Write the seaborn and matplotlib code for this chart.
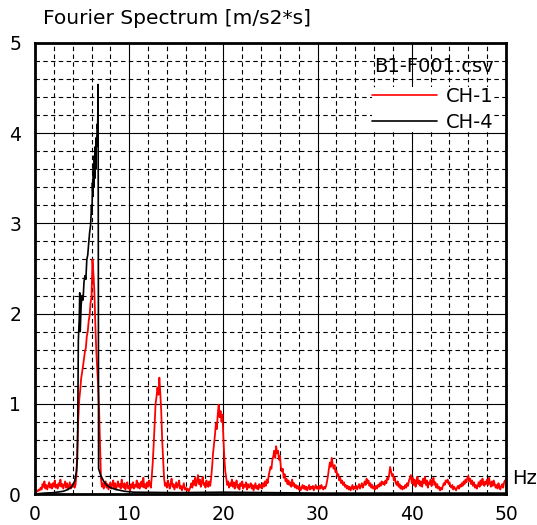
import numpy as np
import pandas as pd
import matplotlib
matplotlib.use("Agg")
import matplotlib.pyplot as plt
import seaborn as sns

# ---------------- data ----------------
title_text = "Fourier Spectrum [m/s2*s]"
file_label = "B1-F001.csv"
series_names = ["CH-1", "CH-4"]
x_ticks = [0, 10, 20, 30, 40, 50]
y_ticks = [0, 1, 2, 3, 4, 5]

# CH-1: 0.0 .. 50.0 Hz, step 0.1 Hz
ch1_freq = [round(i * 0.1, 1) for i in range(501)]
ch1_amp = [
    0.01, 0.02, 0.04, 0.03, 0.05, 0.04, 0.07, 0.05, 0.11, 0.08,
    0.14, 0.06, 0.10, 0.05, 0.09, 0.13, 0.07, 0.11, 0.06, 0.12,
    0.08, 0.15, 0.07, 0.10, 0.06, 0.12, 0.09, 0.16, 0.08, 0.11,
    0.06, 0.10, 0.14, 0.07, 0.12, 0.05, 0.09, 0.13, 0.06, 0.10,
    0.08, 0.12, 0.07, 0.10, 0.22, 0.55, 0.85, 1.05, 1.15, 1.28,
    1.35, 1.42, 1.50, 1.58, 1.62, 1.75, 1.80, 1.92, 1.98, 2.12,
    2.18, 2.60, 2.45, 2.25, 1.90, 1.60, 1.40, 1.20, 0.95, 0.55,
    0.18, 0.08, 0.12, 0.06, 0.10, 0.14, 0.07, 0.11, 0.05, 0.09,
    0.13, 0.06, 0.10, 0.15, 0.07, 0.12, 0.05, 0.09, 0.14, 0.08,
    0.11, 0.06, 0.16, 0.09, 0.07, 0.12, 0.05, 0.10, 0.13, 0.06,
    0.09, 0.04, 0.11, 0.07, 0.13, 0.06, 0.10, 0.08, 0.15, 0.07,
    0.12, 0.06, 0.09, 0.14, 0.08, 0.18, 0.07, 0.11, 0.06, 0.13,
    0.08, 0.15, 0.10, 0.07, 0.20, 0.35, 0.55, 0.78, 1.00, 1.08,
    1.18, 1.10, 1.29, 1.12, 0.92, 0.60, 0.40, 0.18, 0.09, 0.12,
    0.07, 0.15, 0.10, 0.06, 0.12, 0.17, 0.08, 0.11, 0.05, 0.09,
    0.13, 0.07, 0.10, 0.15, 0.06, 0.09, 0.04, 0.08, 0.12, 0.05,
    0.07, 0.04, 0.06, 0.03, 0.05, 0.08, 0.12, 0.07, 0.15, 0.10,
    0.18, 0.09, 0.14, 0.21, 0.11, 0.16, 0.08, 0.13, 0.19, 0.10,
    0.12, 0.07, 0.15, 0.10, 0.08, 0.14, 0.09, 0.18, 0.30, 0.45,
    0.55, 0.65, 0.78, 0.72, 0.88, 0.99, 0.85, 0.92, 0.80, 0.88,
    0.62, 0.40, 0.25, 0.18, 0.10, 0.14, 0.07, 0.12, 0.09, 0.16,
    0.08, 0.13, 0.06, 0.11, 0.15, 0.07, 0.10, 0.05, 0.12, 0.09,
    0.14, 0.06, 0.10, 0.08, 0.13, 0.05, 0.11, 0.07, 0.09, 0.12,
    0.06, 0.10, 0.04, 0.08, 0.12, 0.06, 0.09, 0.05, 0.11, 0.07,
    0.10, 0.06, 0.12, 0.08, 0.14, 0.09, 0.16, 0.12, 0.20, 0.25,
    0.30, 0.28, 0.38, 0.42, 0.48, 0.40, 0.53, 0.45, 0.48, 0.38,
    0.42, 0.30, 0.25, 0.28, 0.18, 0.22, 0.14, 0.17, 0.11, 0.15,
    0.10, 0.13, 0.08, 0.16, 0.09, 0.12, 0.07, 0.10, 0.06, 0.09,
    0.05, 0.08, 0.04, 0.07, 0.10, 0.06, 0.09, 0.05, 0.08, 0.04,
    0.07, 0.10, 0.05, 0.08, 0.06, 0.09, 0.04, 0.07, 0.10, 0.06,
    0.08, 0.05, 0.09, 0.06, 0.10, 0.07, 0.05, 0.08, 0.06, 0.09,
    0.14, 0.20, 0.28, 0.35, 0.30, 0.40, 0.33, 0.28, 0.32, 0.24,
    0.26, 0.20, 0.22, 0.15, 0.18, 0.12, 0.15, 0.10, 0.13, 0.08,
    0.10, 0.06, 0.09, 0.05, 0.08, 0.04, 0.07, 0.10, 0.05, 0.08,
    0.06, 0.09, 0.05, 0.08, 0.11, 0.06, 0.09, 0.12, 0.07, 0.10,
    0.14, 0.10, 0.17, 0.12, 0.15, 0.09, 0.12, 0.07, 0.10, 0.06,
    0.08, 0.05, 0.09, 0.06, 0.10, 0.08, 0.12, 0.09, 0.14, 0.11,
    0.13, 0.10, 0.15, 0.12, 0.18, 0.16, 0.22, 0.30, 0.25, 0.20,
    0.22, 0.15, 0.18, 0.12, 0.10, 0.14, 0.08, 0.11, 0.06, 0.09,
    0.05, 0.08, 0.06, 0.10, 0.07, 0.12, 0.09, 0.15, 0.18, 0.21,
    0.12, 0.18, 0.10, 0.16, 0.08, 0.13, 0.19, 0.11, 0.15, 0.09,
    0.14, 0.08, 0.17, 0.12, 0.19, 0.10, 0.15, 0.07, 0.13, 0.11,
    0.16, 0.09, 0.14, 0.18, 0.10, 0.13, 0.07, 0.11, 0.06, 0.08,
    0.04, 0.07, 0.05, 0.09, 0.12, 0.10, 0.15, 0.13, 0.16, 0.11,
    0.13, 0.09, 0.07, 0.10, 0.05, 0.08, 0.06, 0.04, 0.07, 0.09,
    0.06, 0.10, 0.08, 0.12, 0.09, 0.14, 0.11, 0.16, 0.13, 0.18,
    0.20, 0.14, 0.17, 0.11, 0.15, 0.09, 0.13, 0.07, 0.10, 0.06,
    0.09, 0.13, 0.08, 0.15, 0.10, 0.17, 0.12, 0.09, 0.14, 0.11,
    0.16, 0.10, 0.18, 0.12, 0.08, 0.14, 0.09, 0.15, 0.11, 0.07,
    0.10, 0.06, 0.12, 0.08, 0.05, 0.09, 0.11, 0.07, 0.13, 0.15,
    0.16,
]

# CH-4
ch4_freq = [0.0, 1.0, 2.0, 3.0, 3.5, 3.9, 4.2, 4.4, 4.5, 4.55, 4.6, 4.7, 4.75,
            4.8, 4.9, 5.0, 5.1, 5.2, 5.3, 5.4, 5.5, 5.6, 5.7, 5.8, 5.9, 6.0,
            6.05, 6.1, 6.15, 6.2, 6.25, 6.3, 6.35, 6.4, 6.45, 6.5, 6.55, 6.6,
            6.65, 6.7, 6.75, 7.0, 7.3, 7.6, 8.0, 8.6, 9.5, 10.5, 15.0, 20.0,
            25.0, 30.0, 40.0, 50.0]
ch4_amp = [0.00, 0.01, 0.015, 0.03, 0.05, 0.08, 0.14, 0.25, 0.40, 0.90, 1.70,
           1.95, 2.23, 1.80, 2.10, 2.20, 2.15, 2.35, 2.42, 2.38, 2.60, 2.65,
           2.78, 2.90, 2.98, 3.20, 3.10, 3.45, 3.30, 3.65, 3.40, 3.75, 3.50,
           3.85, 3.60, 3.95, 3.85, 4.10, 4.05, 4.54, 0.28, 0.20, 0.14, 0.10,
           0.07, 0.05, 0.03, 0.02, 0.015, 0.02, 0.015, 0.01, 0.01, 0.01]

df1 = pd.DataFrame({"Hz": ch1_freq, "amp": ch1_amp})
df4 = pd.DataFrame({"Hz": ch4_freq, "amp": ch4_amp})

# ---------------- plot ----------------
sns.set_style("white")
plt.rcParams["font.family"] = ["DejaVu Sans"]
plt.rcParams["text.color"] = "black"
plt.rcParams["xtick.color"] = "black"
plt.rcParams["ytick.color"] = "black"

fig = plt.figure(figsize=(5.37, 5.25), dpi=100)
ax = fig.add_axes([35 / 537, 31 / 525, 471 / 537, 451 / 525])

ax.set_xlim(0, 50)
ax.set_ylim(0, 5)

ax.set_xticks(x_ticks)
ax.set_yticks(y_ticks)
ax.set_xticks(np.arange(0, 51, 2), minor=True)
ax.set_yticks(np.arange(0, 5.01, 0.2), minor=True)
ax.grid(which="major", color="black", linewidth=0.8, linestyle="-")
ax.grid(which="minor", color="black", linewidth=0.8, linestyle=(0, (4, 3)))
ax.set_axisbelow(True)

sns.lineplot(data=df1, x="Hz", y="amp", ax=ax, color="#ff0000",
             linewidth=1.3, label=series_names[0], zorder=3)
sns.lineplot(data=df4, x="Hz", y="amp", ax=ax, color="black",
             linewidth=1.2, label=series_names[1], zorder=4)

ax.set_xlabel("")
ax.set_ylabel("")
ax.tick_params(which="both", length=0, labelsize=13.5, labelcolor="black")
ax.tick_params(axis="x", pad=8)
ax.tick_params(axis="y", pad=10)
for s in ax.spines.values():
    s.set_color("black")
    s.set_linewidth(2.0)
    s.set_visible(True)
    s.set_zorder(6)

leg = ax.legend(loc="upper right", bbox_to_anchor=(0.995, 0.9236),
                frameon=True, fontsize=14, handlelength=3.3,
                handletextpad=0.5, borderpad=0.0, labelspacing=0.35)
leg.get_frame().set_facecolor("white")
leg.get_frame().set_edgecolor("none")
leg.get_frame().set_alpha(1.0)
leg.set_zorder(7)
for line in leg.get_lines():
    line.set_linewidth(1.2)
for t in leg.get_texts():
    t.set_color("black")

ax.text(0.975, 0.947, file_label, transform=ax.transAxes, ha="right",
        va="center", fontsize=14, color="black", zorder=8)

fig.text(43 / 537, 1 - 18 / 525, title_text, ha="left", va="center",
         fontsize=14.5, color="black")
ax.text(1.012, 0.035, "Hz", transform=ax.transAxes, ha="left",
        va="center", fontsize=14, color="black")

fig.savefig("out.png", dpi=100)
